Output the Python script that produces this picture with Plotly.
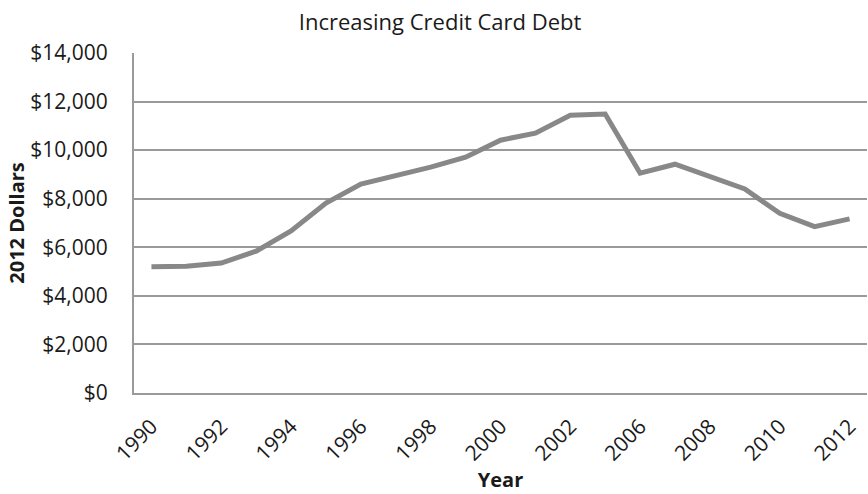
import plotly.graph_objects as go

years = ["1990", "1991", "1992", "1993", "1994", "1995", "1996", "1997", "1998",
         "1999", "2000", "2001", "2002", "2004", "2006", "2007", "2008", "2009",
         "2010", "2011", "2012"]
debt = [5200, 5220, 5350, 5840, 6670, 7820, 8600, 8930, 9300,
        9710, 10410, 10700, 11440, 11490, 9050, 9420, 8930, 8400,
        7400, 6850, 7170]
tick_labels = years[::2]
y_ticks = [0, 2000, 4000, 6000, 8000, 10000, 12000, 14000]

font_family = "Open Sans"
line_grey = "#888888"
grid_grey = "#9a9a9a"

fig = go.Figure()
fig.add_trace(go.Scatter(
    x=years, y=debt, mode="lines",
    line=dict(color=line_grey, width=5),
    showlegend=False,
))

fig.update_layout(
    width=868, height=494,
    margin=dict(l=134, r=1, t=53, b=101),
    paper_bgcolor="white", plot_bgcolor="white",
    font=dict(family=font_family, size=21, color="#1a1a1a"),
    title=dict(text="Increasing Credit Card Debt", x=0.507, xanchor="center",
               y=0.955, yanchor="middle", font=dict(size=22, color="#1a1a1a")),
)
fig.update_xaxes(
    type="category", range=[-0.5, len(years) - 0.5],
    tickmode="array", tickvals=tick_labels, ticktext=tick_labels,
    tickangle=-45, showgrid=False, showline=True, linecolor=grid_grey, linewidth=2,
    ticks="", ticklabelstandoff=11, automargin=False,
    title=dict(text="<b>Year</b>", font=dict(size=20), standoff=8),
)
fig.update_yaxes(
    range=[0, 14000], tickvals=y_ticks,
    ticktext=["$" + format(v, ",") for v in y_ticks],
    showgrid=True, gridcolor=grid_grey, gridwidth=2,
    showline=True, linecolor=grid_grey, linewidth=2, zeroline=False,
    ticks="", ticklabelstandoff=20, automargin=False,
    title=dict(text="<b>2012 Dollars</b>", font=dict(size=20), standoff=0),
)

fig.write_html("out.html", config={"displayModeBar": False},
               post_script="document.body.style.margin='0';")
